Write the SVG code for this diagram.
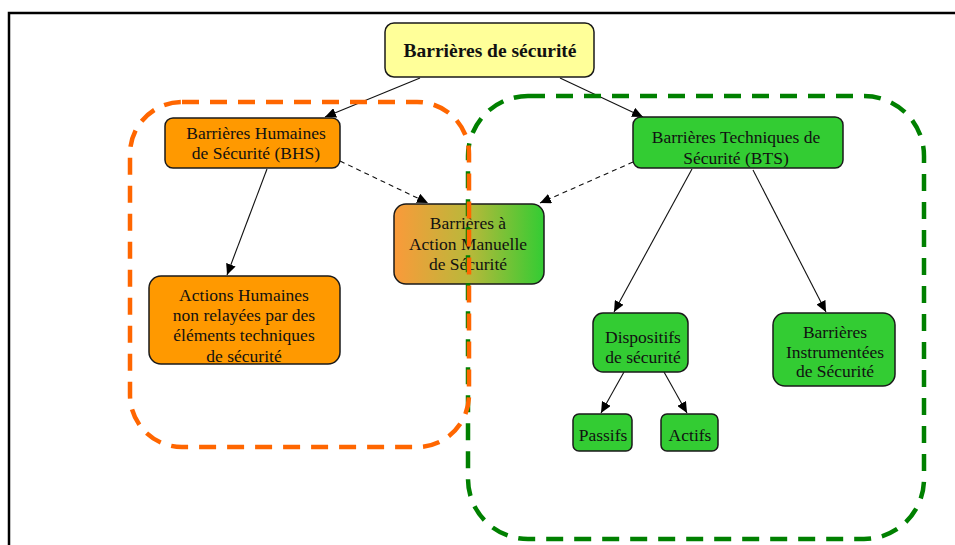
<svg xmlns="http://www.w3.org/2000/svg" width="955" height="545" viewBox="0 0 955 545">
<defs>
<marker id="arr" markerUnits="userSpaceOnUse" markerWidth="12" markerHeight="10" refX="11" refY="5" orient="auto">
<path d="M0,0 L11,5 L0,10 Z" fill="#000"/>
</marker>
<linearGradient id="grad" x1="0" y1="0" x2="1" y2="0">
<stop offset="0" stop-color="#FA9A3A"/>
<stop offset="0.5" stop-color="#B9B83A"/>
<stop offset="1" stop-color="#33CC33"/>
</linearGradient>
<style>
.box{stroke:#1a1a1a;stroke-width:1.5}
.t{font-family:"Liberation Serif","Times New Roman",serif;font-size:17.5px;fill:#111;text-anchor:middle}
.b{font-weight:bold;font-size:19.5px}
.e{stroke:#111;stroke-width:1.1;fill:none;marker-end:url(#arr)}
.d{stroke-dasharray:5,4}
.or{fill:#FF9900}
.gr{fill:#33CC33}
</style>
</defs>
<rect width="955" height="545" fill="#fff"/>
<path d="M9,545 V13 H955" fill="none" stroke="#000" stroke-width="2.5"/>

<g id="connectors">
<line class="e" x1="420" y1="78" x2="325" y2="117"/>
<line class="e" x1="560" y1="78" x2="643" y2="117"/>
<line class="e" x1="267" y1="169" x2="227" y2="275"/>
<line class="e d" x1="340" y1="161" x2="428" y2="203"/>
<line class="e d" x1="633" y1="162" x2="540" y2="203"/>
<line class="e" x1="692" y1="169" x2="614" y2="312"/>
<line class="e" x1="753" y1="170" x2="826" y2="312"/>
<line class="e" x1="624" y1="372" x2="601" y2="413"/>
<line class="e" x1="664" y1="372" x2="687" y2="413"/>
</g>

<g id="n-top">
<rect class="box" x="385" y="23" width="209" height="54" rx="9" fill="#FFFF99"/>
<text class="t b" x="490" y="57">Barrières de sécurité</text>
</g>
<g id="n-bhs">
<rect class="box or" x="165" y="118" width="175" height="50" rx="8"/>
<text class="t" x="256" y="139">Barrières Humaines</text>
<text class="t" x="256" y="159">de Sécurité (BHS)</text>
</g>
<g id="n-bts">
<rect class="box gr" x="633" y="117" width="210" height="51" rx="8"/>
<text class="t" x="736" y="143">Barrières Techniques de</text>
<text class="t" x="736" y="164">Sécurité (BTS)</text>
</g>
<g id="n-bams">
<rect class="box" x="394" y="204" width="150" height="80" rx="12" fill="url(#grad)"/>
<text class="t" x="468" y="229">Barrières à</text>
<text class="t" x="468" y="250">Action Manuelle</text>
<text class="t" x="468" y="270">de Sécurité</text>
</g>
<g id="n-ah">
<rect class="box or" x="149" y="276" width="191" height="88" rx="12"/>
<text class="t" x="244" y="301">Actions Humaines</text>
<text class="t" x="244" y="321">non relayées par des</text>
<text class="t" x="244" y="341">éléments techniques</text>
<text class="t" x="244" y="362">de sécurité</text>
</g>
<g id="n-disp">
<rect class="box gr" x="593" y="313" width="95" height="59" rx="10"/>
<text class="t" x="643" y="343">Dispositifs</text>
<text class="t" x="643" y="363">de sécurité</text>
</g>
<g id="n-bis">
<rect class="box gr" x="773" y="313" width="122" height="73" rx="12"/>
<text class="t" x="835" y="338">Barrières</text>
<text class="t" x="835" y="358">Instrumentées</text>
<text class="t" x="835" y="377">de Sécurité</text>
</g>
<g id="n-passifs">
<rect class="box gr" x="573" y="414" width="59" height="37" rx="6"/>
<text class="t" x="603" y="441">Passifs</text>
</g>
<g id="n-actifs">
<rect class="box gr" x="661" y="414" width="57" height="37" rx="6"/>
<text class="t" x="690" y="441">Actifs</text>
</g>

<g id="groups" fill="none" stroke-width="4.5">
<rect x="468" y="96" width="456" height="443" rx="60" stroke="#008000" stroke-dasharray="17,11"/>
<rect x="130" y="102" width="339" height="345" rx="52" stroke="#FF6600" stroke-dasharray="17,11"/>
</g>
</svg>
